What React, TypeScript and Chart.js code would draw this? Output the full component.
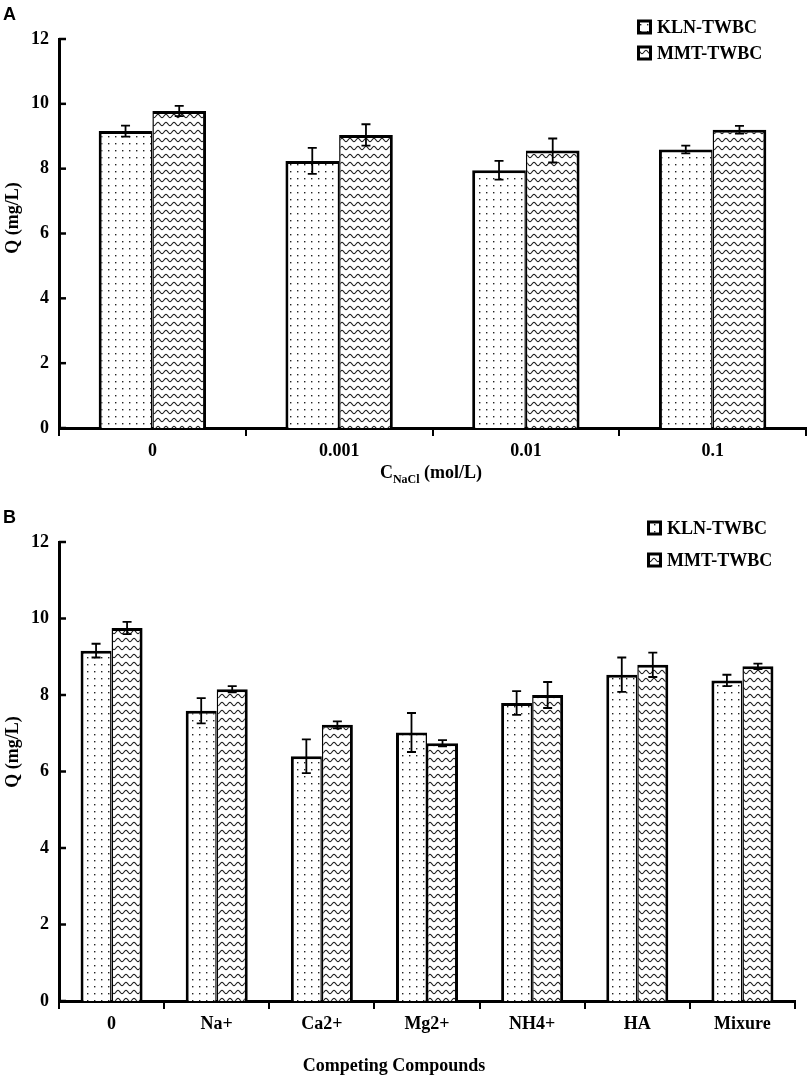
import React, { useEffect, useRef } from "react";
import { Chart, registerables } from "chart.js";

Chart.register(...registerables);

// ---- data ----
const seriesNames = ["KLN-TWBC", "MMT-TWBC"];
const yTickValues = [0, 2, 4, 6, 8, 10, 12];

const nacl = ["0", "0.001", "0.01", "0.1"];
const klnNacl = [9.16, 8.24, 7.95, 8.59];
const klnNaclErr = [0.17, 0.4, 0.29, 0.12];
const mmtNacl = [9.78, 9.04, 8.56, 9.2];
const mmtNaclErr = [0.16, 0.33, 0.37, 0.12];

const compounds = ["0", "Na+", "Ca2+", "Mg2+", "NH4+", "HA", "Mixure"];
const klnComp = [9.16, 7.59, 6.4, 7.02, 7.79, 8.53, 8.38];
const klnCompErr = [0.18, 0.33, 0.44, 0.51, 0.31, 0.45, 0.15];
const mmtComp = [9.75, 8.15, 7.22, 6.74, 8.0, 8.79, 8.75];
const mmtCompErr = [0.16, 0.08, 0.09, 0.08, 0.34, 0.32, 0.07];

const SERIF = "'Liberation Serif', 'Times New Roman', serif";

interface PanelConfig {
  letter: string;
  letterY: number;
  categories: string[];
  kln: number[];
  klnErr: number[];
  mmt: number[];
  mmtErr: number[];
  height: number;
  top: number;
  right: number;
  xHeight: number;
  barFrac: number;
  legendX: number;
  legendRows: number[];
  yTitleY: number;
  xTitle: { x: number; y: number; main: string; sub?: string; rest?: string };
}

function makeDots(ctx: CanvasRenderingContext2D) {
  const c = document.createElement("canvas");
  c.width = 7;
  c.height = 7;
  const g = c.getContext("2d")!;
  g.fillStyle = "#fff";
  g.fillRect(0, 0, 7, 7);
  g.fillStyle = "#222";
  g.fillRect(3, 3, 1.4, 1.4);
  return ctx.createPattern(c, "repeat")!;
}

function makeWaves(ctx: CanvasRenderingContext2D) {
  const c = document.createElement("canvas");
  c.width = 8;
  c.height = 8;
  const g = c.getContext("2d")!;
  g.fillStyle = "#fff";
  g.fillRect(0, 0, 8, 8);
  g.strokeStyle = "#222";
  g.lineWidth = 1.1;
  g.beginPath();
  for (let x = -1; x <= 9; x += 0.5) {
    const y = 4 + 1.7 * Math.sin((2 * Math.PI * x) / 8);
    if (x === -1) g.moveTo(x, y);
    else g.lineTo(x, y);
  }
  g.stroke();
  return ctx.createPattern(c, "repeat")!;
}

const Panel: React.FC<{ cfg: PanelConfig }> = ({ cfg }) => {
  const canvasRef = useRef<HTMLCanvasElement>(null);
  const chartRef = useRef<Chart | null>(null);

  useEffect(() => {
    if (!canvasRef.current) return;
    if (chartRef.current) chartRef.current.destroy();
    const ctx = canvasRef.current.getContext("2d")!;
    const fills = [makeDots(ctx), makeWaves(ctx)];
    const errs = [cfg.klnErr, cfg.mmtErr];

    const decor = {
      id: "decor",
      afterDatasetsDraw(chart: any) {
        const c = chart.ctx as CanvasRenderingContext2D;
        const y = chart.scales.y;
        c.save();
        c.strokeStyle = "#000";
        c.lineWidth = 1.8;
        chart.data.datasets.forEach((ds: any, i: number) => {
          chart.getDatasetMeta(i).data.forEach((bar: any, j: number) => {
            const v = ds.data[j] as number;
            const e = errs[i][j];
            const t = y.getPixelForValue(v + e);
            const b = y.getPixelForValue(v - e);
            const x = bar.x;
            c.beginPath();
            c.moveTo(x, t);
            c.lineTo(x, b);
            c.moveTo(x - 4.5, t);
            c.lineTo(x + 4.5, t);
            c.moveTo(x - 4.5, b);
            c.lineTo(x + 4.5, b);
            c.stroke();
          });
        });
        c.restore();
      },
      afterDraw(chart: any) {
        const c = chart.ctx as CanvasRenderingContext2D;
        const y = chart.scales.y;
        const area = chart.chartArea;
        c.save();
        // inward y tick marks
        c.strokeStyle = "#000";
        c.lineWidth = 2.5;
        y.ticks.forEach((t: any) => {
          const py = y.getPixelForValue(t.value);
          c.beginPath();
          c.moveTo(area.left, py);
          c.lineTo(area.left + 7, py);
          c.stroke();
        });

        // panel letter
        c.fillStyle = "#000";
        c.font = "bold 18px 'Liberation Sans', Arial, sans-serif";
        c.textAlign = "left";
        c.textBaseline = "alphabetic";
        c.fillText(cfg.letter, 3, cfg.letterY);

        // y title
        c.save();
        c.translate(13, cfg.yTitleY);
        c.rotate(-Math.PI / 2);
        c.font = `bold 18px ${SERIF}`;
        c.textAlign = "center";
        c.textBaseline = "middle";
        c.fillText("Q (mg/L)", 0, 0);
        c.restore();

        // x title (with optional subscript)
        const xt = cfg.xTitle;
        const big = `bold 18px ${SERIF}`;
        const small = `bold 12px ${SERIF}`;
        c.font = big;
        const w1 = c.measureText(xt.main).width;
        const w3 = xt.rest ? c.measureText(xt.rest).width : 0;
        c.font = small;
        const w2 = xt.sub ? c.measureText(xt.sub).width : 0;
        let sx = xt.x - (w1 + w2 + w3) / 2;
        c.textAlign = "left";
        c.textBaseline = "alphabetic";
        c.font = big;
        c.fillText(xt.main, sx, xt.y);
        sx += w1;
        if (xt.sub) {
          c.font = small;
          c.fillText(xt.sub, sx, xt.y + 5);
          sx += w2;
        }
        if (xt.rest) {
          c.font = big;
          c.fillText(xt.rest, sx, xt.y);
        }

        // legend
        seriesNames.forEach((name, i) => {
          const ry = cfg.legendRows[i];
          const bx = cfg.legendX;
          c.fillStyle = "#000";
          c.fillRect(bx, ry - 7.5, 15, 15);
          c.fillStyle = fills[i];
          c.fillRect(bx + 3, ry - 4.5, 9, 9);
          c.fillStyle = "#000";
          c.font = `bold 18px ${SERIF}`;
          c.textBaseline = "middle";
          c.fillText(name, bx + 20, ry + 1);
        });
        c.restore();
      },
    };

    chartRef.current = new Chart(ctx, {
      type: "bar",
      data: {
        labels: cfg.categories,
        datasets: [
          {
            label: seriesNames[0],
            data: cfg.kln,
            backgroundColor: fills[0],
            borderColor: "#000",
            borderWidth: { left: 3, top: 3, right: 1.5, bottom: 0 },
            borderSkipped: "bottom",
          },
          {
            label: seriesNames[1],
            data: cfg.mmt,
            backgroundColor: fills[1],
            borderColor: "#000",
            borderWidth: { left: 1.5, top: 3, right: 3, bottom: 0 },
            borderSkipped: "bottom",
          },
        ],
      },
      options: {
        responsive: false,
        maintainAspectRatio: false,
        animation: false,
        datasets: {
          bar: { categoryPercentage: cfg.barFrac, barPercentage: 1 },
        },
        layout: { padding: { top: cfg.top, right: cfg.right, left: 0, bottom: 0 } },
        plugins: { legend: { display: false }, tooltip: { enabled: false } },
        scales: {
          x: {
            grid: {
              display: true,
              drawOnChartArea: false,
              drawTicks: true,
              tickLength: 8,
              color: "#000",
              lineWidth: 2,
              offset: true,
            },
            border: { display: true, color: "#000", width: 3 },
            ticks: { color: "#000", font: { family: SERIF, size: 18, weight: "bold" }, padding: 5 },
            afterFit: (s: any) => {
              s.height = cfg.xHeight;
            },
          },
          y: {
            min: 0,
            max: 12,
            afterBuildTicks: (s: any) => {
              s.ticks = yTickValues.map((v) => ({ value: v }));
            },
            grid: { display: false, drawTicks: false },
            border: { display: true, color: "#000", width: 3 },
            ticks: { color: "#000", font: { family: SERIF, size: 18, weight: "bold" }, padding: 10 },
            afterFit: (s: any) => {
              s.width = 59;
            },
          },
        },
      },
      plugins: [decor],
    } as any);

    return () => {
      if (chartRef.current) {
        chartRef.current.destroy();
        chartRef.current = null;
      }
    };
  }, [cfg]);

  return (
    <canvas
      ref={canvasRef}
      width={809}
      height={cfg.height}
      style={{ display: "block", width: 809, height: cfg.height }}
    />
  );
};

const panelA: PanelConfig = {
  letter: "A",
  letterY: 20,
  categories: nacl,
  kln: klnNacl,
  klnErr: klnNaclErr,
  mmt: mmtNacl,
  mmtErr: mmtNaclErr,
  height: 500,
  top: 39,
  right: 3,
  xHeight: 72,
  barFrac: 0.575,
  legendX: 637,
  legendRows: [27, 53],
  yTitleY: 218,
  xTitle: { x: 431, y: 478, main: "C", sub: "NaCl", rest: " (mol/L)" },
};

const panelB: PanelConfig = {
  letter: "B",
  letterY: 23,
  categories: compounds,
  kln: klnComp,
  klnErr: klnCompErr,
  mmt: mmtComp,
  mmtErr: mmtCompErr,
  height: 576,
  top: 42,
  right: 14,
  xHeight: 75,
  barFrac: 0.59,
  legendX: 647,
  legendRows: [28, 60],
  yTitleY: 252,
  xTitle: { x: 394, y: 571, main: "Competing Compounds" },
};

export default function App() {
  return (
    <div style={{ position: "absolute", left: 0, top: 0, width: 809, height: 1076, background: "#fff" }}>
      <Panel cfg={panelA} />
      <Panel cfg={panelB} />
    </div>
  );
}
